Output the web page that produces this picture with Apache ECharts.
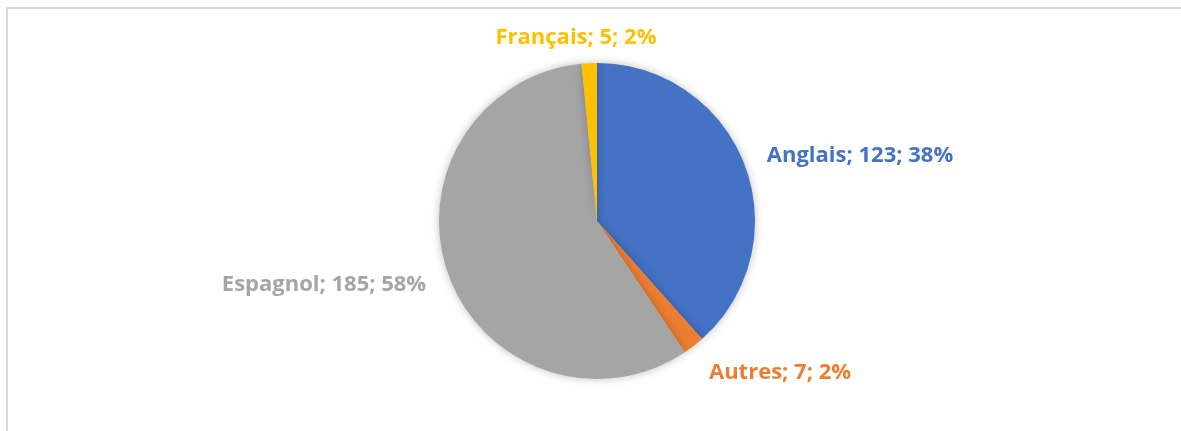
<!DOCTYPE html>
<html>
<head>
<meta charset="utf-8">
<script src="https://cdn.jsdelivr.net/npm/echarts@6/dist/echarts.min.js"></script>
<style>
    html, body { margin: 0; padding: 0; background: #fff; }
    #frame {
        position: absolute; left: 6px; top: 7px; width: 1200px; height: 450px;
        border-left: 2px solid #d9d9d9; border-top: 2px solid #d9d9d9;
    }
    #chart { position: absolute; left: 0; top: 0; width: 1181px; height: 431px; }
</style>
</head>
<body>
<div id="frame"></div>
<div id="chart"></div>
<script>
const languages = ['Anglais', 'Autres', 'Espagnol', 'Français'];
const counts = [123, 7, 185, 5];
const colors = ['#4472C4', '#ED7D31', '#A5A5A5', '#FFC000'];

// where each label sits (Excel put them by hand)
const labelSpots = [
    { x: 860, y: 156 },
    { x: 780, y: 373 },
    { x: 324, y: 285 },
    { x: 576, y: 38 },
];

const total = counts.reduce((a, b) => a + b, 0);

const chartDom = document.getElementById('chart');
const pieChart = echarts.init(chartDom);

let option = {
    animation: false,
    series: [{
        type: 'pie',
        center: [597, 221],
        radius: 158,
        startAngle: 90,
        data: languages.map((name, i) => ({
            name: name,
            value: counts[i],
            itemStyle: { color: colors[i] },
            label: { color: colors[i] },
        })),
        itemStyle: {
            borderWidth: 0,
            shadowBlur: 8,
            shadowColor: 'rgba(0,0,0,0.25)',
        },
        label: {
            show: true,
            formatter: function (params) {
                return params.name + '; ' + params.value + '; ' + Math.round(params.value / total * 100) + '%';
            },
            fontFamily: 'Open Sans',
            fontWeight: 'bold',
            fontSize: 22,
        },
        labelLine: { show: false },
        labelLayout: function (params) {
            const spot = labelSpots[params.dataIndex];
            return { x: spot.x, y: spot.y, align: 'center', verticalAlign: 'middle' };
        },
        emphasis: { disabled: true },
    }],
};

option && pieChart.setOption(option);
</script>
</body>
</html>
